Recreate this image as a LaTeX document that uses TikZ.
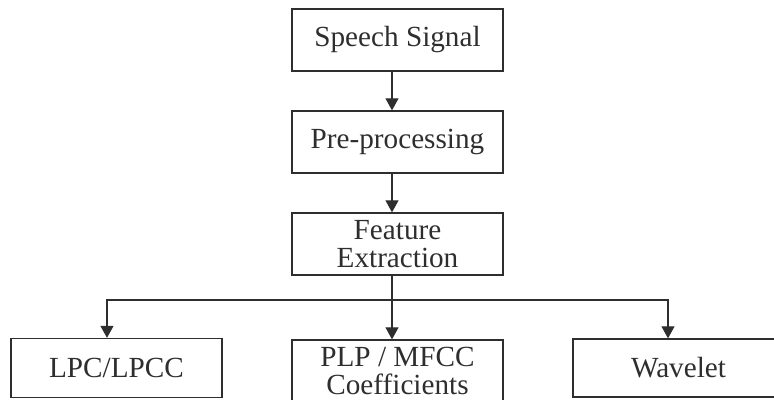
\documentclass[tikz,border=0pt]{standalone}
\usepackage{fontspec}
\setmainfont{Liberation Serif}
\usetikzlibrary{arrows.meta}
\definecolor{inkgray}{HTML}{2E2E2E}

\begin{document}
\begin{tikzpicture}[x=0.5pt,y=-0.5pt,
  box/.style={draw=inkgray, line width=0.65pt, rectangle, minimum width=105.5pt,
    minimum height=31pt, align=center, text=inkgray, inner sep=0pt,
    font=\fontsize{14.6}{14}\selectfont},
  arr/.style={draw=inkgray, line width=0.55pt, -{Triangle[length=6pt,width=6.5pt]}}]
\useasboundingbox (0,0) rectangle (774,400);

% Main chain
\node[box] (speech) at (397.5,40) {Speech Signal};
\node[box] (pre) at (397.5,142) {Pre-processing};
\node[box] (feat) at (397.5,244) {Feature\\Extraction};

% Feature types
\node[box, minimum height=29.5pt] (lpc) at (116.5,368) {LPC/LPCC};
\node[box] (plp) at (397.5,371) {PLP / MFCC\\Coefficients};
\node[box, minimum height=29pt] (wave) at (678.5,368) {Wavelet};

% Arrows
\draw[arr] ([xshift=-2.75pt]speech.south) -- ([xshift=-2.75pt]pre.north);
\draw[arr] ([xshift=-2.75pt]pre.south) -- ([xshift=-2.75pt]feat.north);
\coordinate (split) at (392,300);
\draw[arr] ([xshift=-2.75pt]feat.south) -- ([xshift=-2.75pt]plp.north);
\draw[arr] (split) -| ([xshift=-4.75pt]lpc.north);
\draw[arr] (split) -| ([xshift=-5.25pt]wave.north);
\end{tikzpicture}
\end{document}
